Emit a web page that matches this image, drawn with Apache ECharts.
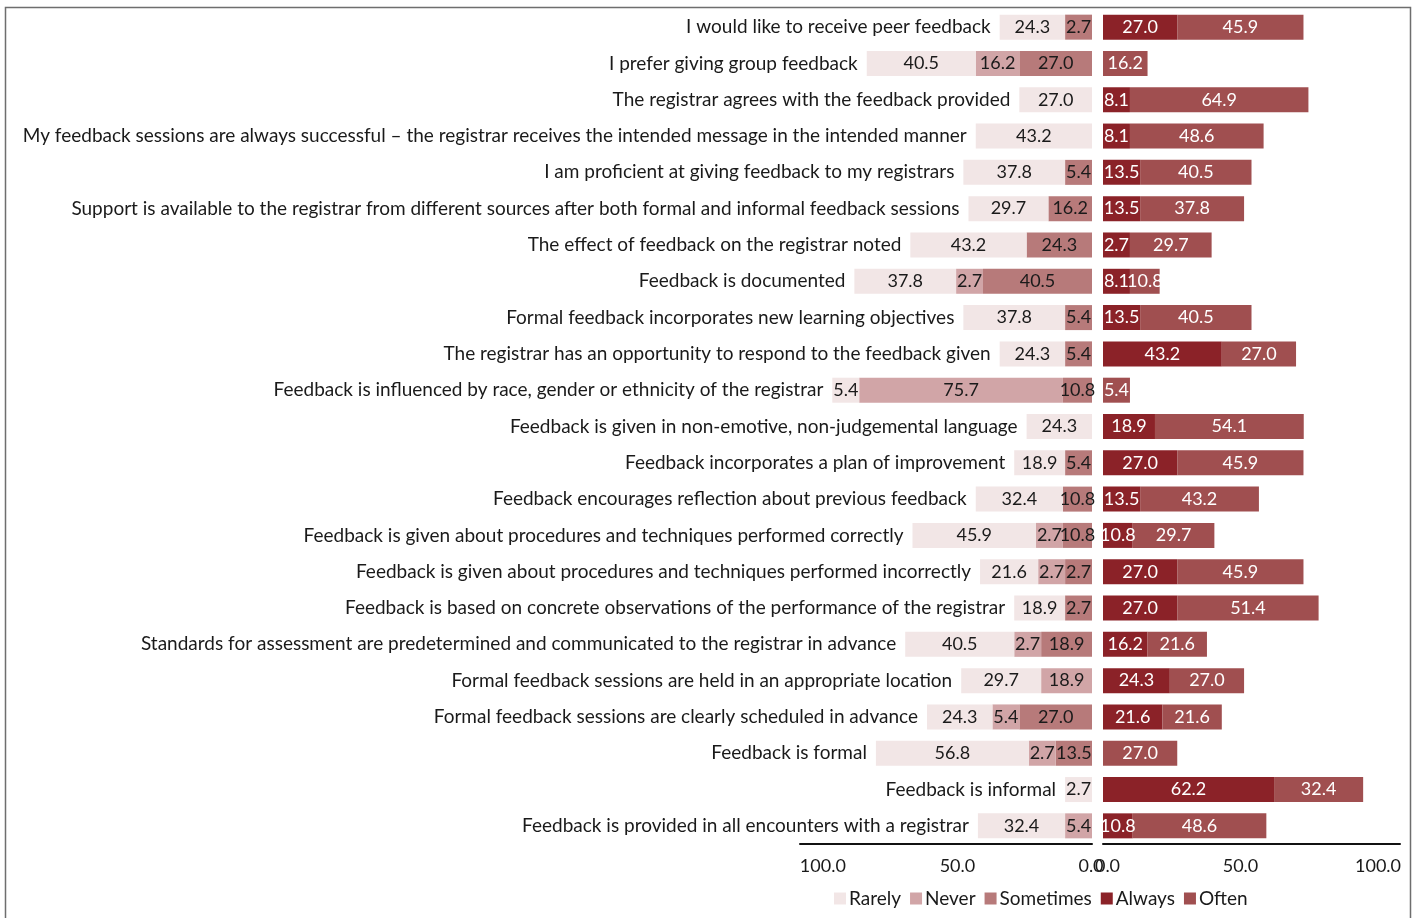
<!DOCTYPE html>
<html>
<head>
<meta charset="utf-8">
<script src="https://cdn.jsdelivr.net/npm/echarts@6/dist/echarts.min.js"></script>
<style>
html,body{margin:0;padding:0;background:#fff;}
#chart{width:1417px;height:918px;}
</style>
</head>
<body>
<div id="chart"></div>
<script>
const categories = [
  "I would like to receive peer feedback",
  "I prefer giving group feedback",
  "The registrar agrees with the feedback provided",
  "My feedback sessions are always successful \u2013 the registrar receives the intended message in the intended manner",
  "I am proficient at giving feedback to my registrars",
  "Support is available to the registrar from different sources after both formal and informal feedback sessions",
  "The effect of feedback on the registrar noted",
  "Feedback is documented",
  "Formal feedback incorporates new learning objectives",
  "The registrar has an opportunity to respond to the feedback given",
  "Feedback is influenced by race, gender or ethnicity of the registrar",
  "Feedback is given in non-emotive, non-judgemental language",
  "Feedback incorporates a plan of improvement",
  "Feedback encourages reflection about previous feedback",
  "Feedback is given about procedures and techniques performed correctly",
  "Feedback is given about procedures and techniques performed incorrectly",
  "Feedback is based on concrete observations of the performance of the registrar",
  "Standards for assessment are predetermined and communicated to the registrar in advance",
  "Formal feedback sessions are held in an appropriate location",
  "Formal feedback sessions are clearly scheduled in advance",
  "Feedback is formal",
  "Feedback is informal",
  "Feedback is provided in all encounters with a registrar"
];
const rarely    = [24.3, 40.5, 27.0, 43.2, 37.8, 29.7, 43.2, 37.8, 37.8, 24.3, 5.4, 24.3, 18.9, 32.4, 45.9, 21.6, 18.9, 40.5, 29.7, 24.3, 56.8, 2.7, 32.4];
const never     = [null, 16.2, null, null, null, null, null, 2.7, null, null, 75.7, null, null, null, 2.7, 2.7, null, 2.7, 18.9, 5.4, 2.7, null, 5.4];
const sometimes = [2.7, 27.0, null, null, 5.4, 16.2, 24.3, 40.5, 5.4, 5.4, 10.8, null, 5.4, 10.8, 10.8, 2.7, 2.7, 18.9, null, 27.0, 13.5, null, null];
const always    = [27.0, null, 8.1, 8.1, 13.5, 13.5, 2.7, 8.1, 13.5, 43.2, null, 18.9, 27.0, 13.5, 10.8, 27.0, 27.0, 16.2, 24.3, 21.6, null, 62.2, 10.8];
const often     = [45.9, 16.2, 64.9, 48.6, 40.5, 37.8, 29.7, 10.8, 40.5, 27.0, 5.4, 54.1, 45.9, 43.2, 29.7, 45.9, 51.4, 21.6, 27.0, 21.6, 27.0, 32.4, 48.6];
const tickValues = [0, 50, 100];

// style: the reference draws every segment at least wide enough to hold its label
const MIN_SEG_LEFT = 10;
const MIN_SEG_RIGHT = 9.8;

const FONT = 'Lato';
const colors = {Rarely:'#F2E6E6', Never:'#D1A5A7', Sometimes:'#B77A7A', Always:'#8B2228', Often:'#A04F50'};

const chart = echarts.init(document.getElementById('chart'), null, {renderer:'canvas'});

function barSeries(name, arr, side, labelColor){
  const minSeg = side === 'L' ? MIN_SEG_LEFT : MIN_SEG_RIGHT;
  return {
    name:name, type:'bar', stack: side,
    data: arr.map(v => (v == null ? null : Math.max(v, minSeg))),
    xAxisIndex: side==='L'?0:1, yAxisIndex: side==='L'?0:1,
    barWidth:25, barGap:'0%',
    itemStyle:{color:colors[name]},
    label:{show:true, position:'inside', color:labelColor, fontFamily:FONT, fontSize:18,
      formatter: p => (arr[p.dataIndex] == null ? '' : arr[p.dataIndex].toFixed(1))},
    emphasis:{disabled:true}, silent:true
  };
}

function axis(gridIndex, inverse, max, zeroPad){
  return {
    type:'value', gridIndex:gridIndex, inverse:inverse, min:0, max:max, interval:50,
    splitLine:{show:false}, axisTick:{show:false},
    axisLine:{show:true, lineStyle:{color:'#111', width:2}},
    axisLabel:{show:true, color:'#1a1a1a', fontFamily:FONT, fontSize:18, margin:13,
      showMaxLabel:false,
      formatter: v => (tickValues.indexOf(v) < 0 ? '' : (v === 0 ? '{z|0.0}' : v.toFixed(1))),
      rich:{z:{fontFamily:FONT, fontSize:18, color:'#1a1a1a', padding:zeroPad}}
    }
  };
}

const option = {
  animation:false,
  textStyle:{fontFamily:FONT},
  grid:[
    {left:800, width:292, top:9, height:835, containLabel:false, outerBoundsMode:'none'},
    {left:1103, width:297, top:9, height:835, containLabel:false, outerBoundsMode:'none'}
  ],
  xAxis:[
    axis(0, true, 108.5, [0,2,0,0]),
    axis(1, false, 108, [0,0,0,9])
  ],
  yAxis:[
    {type:'category', gridIndex:0, data:categories, inverse:true, show:false},
    {type:'category', gridIndex:1, data:categories, inverse:true, show:false}
  ],
  legend:{
    data:['Rarely','Never','Sometimes','Always','Often'],
    left:829, top:884, itemWidth:12, itemHeight:12, itemGap:9, icon:'rect',
    textStyle:{color:'#1a1a1a', fontFamily:FONT, fontSize:19, padding:[0,0,0,-2]}
  },
  graphic:[{
    type:'rect', silent:true, z:-1,
    shape:{x:5.5, y:7.5, width:1405, height:960},
    style:{fill:'none', stroke:'#6e6e6e', lineWidth:1.5}
  }],
  series:[
    barSeries('Sometimes', sometimes, 'L', '#1a1a1a'),
    barSeries('Never', never, 'L', '#1a1a1a'),
    barSeries('Rarely', rarely, 'L', '#1a1a1a'),
    {
      name:'catLabel', type:'bar', stack:'L', xAxisIndex:0, yAxisIndex:0,
      data: categories.map(() => 0), barWidth:25,
      itemStyle:{color:'rgba(0,0,0,0)'},
      label:{show:true, position:'left', distance:9, color:'#1a1a1a', fontFamily:FONT, fontSize:19,
        formatter: p => p.name},
      emphasis:{disabled:true}, silent:true
    },
    barSeries('Always', always, 'R', '#ffffff'),
    barSeries('Often', often, 'R', '#ffffff')
  ]
};
chart.setOption(option);
</script>
</body>
</html>
